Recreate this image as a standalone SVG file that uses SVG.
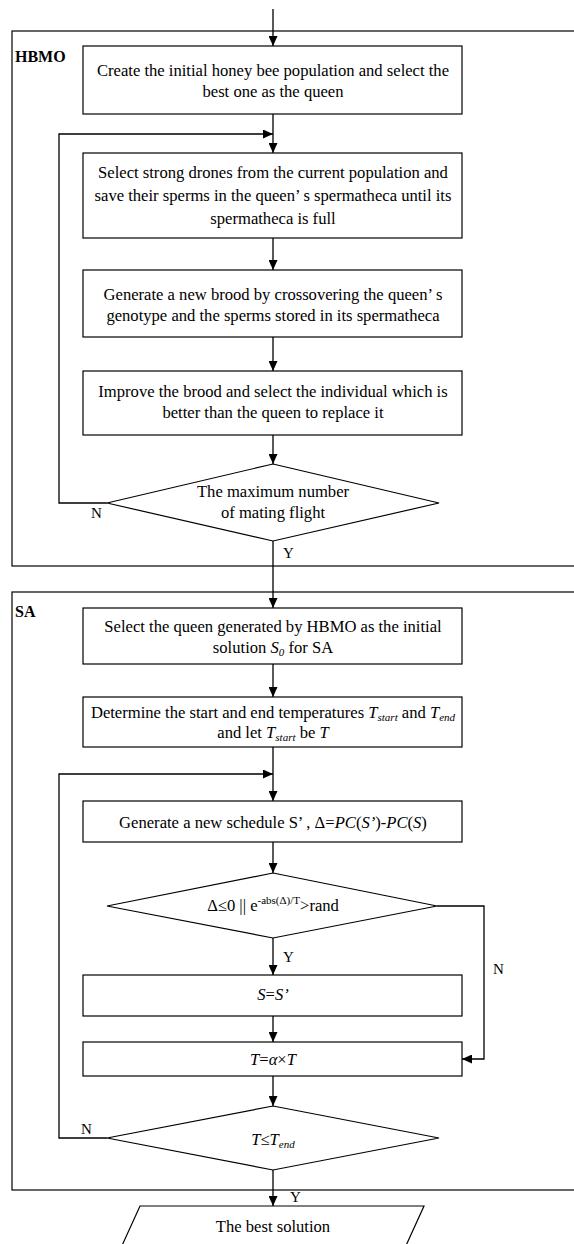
<svg xmlns="http://www.w3.org/2000/svg" width="574" height="1244" viewBox="0 0 574 1244">
<defs>
<marker id="ah" markerUnits="userSpaceOnUse" markerWidth="10" markerHeight="9" refX="10" refY="4.5" orient="auto">
<path d="M0,0 L10,4.5 L0,9 z" fill="#000"/>
</marker>
<style>
.t{font-family:"Liberation Serif","Times New Roman",serif;font-size:16.6px;fill:#000;text-anchor:middle}
.lb{font-family:"Liberation Serif","Times New Roman",serif;font-size:15px;fill:#000}
.bl{font-family:"Liberation Serif","Times New Roman",serif;font-size:16px;font-weight:bold;fill:#000}
.box{fill:#fff;stroke:#000;stroke-width:1.2}
.frame{fill:none;stroke:#000;stroke-width:1.2}
.c{fill:none;stroke:#000;stroke-width:1.3;marker-end:url(#ah)}
.i{font-style:italic}
</style>
</defs>
<rect width="574" height="1244" fill="#fff"/>
<g id="frames">
<rect class="frame" x="12" y="31" width="572" height="535"/>
<rect class="frame" x="12" y="592" width="572" height="598"/>
<text class="bl" x="15" y="62">HBMO</text>
<text class="bl" x="15" y="617">SA</text>
</g>
<g id="connectors">
<path class="c" d="M273,9 V46"/>
<path class="c" d="M273,114 V153"/>
<path class="c" d="M107,503 H59 V134 H273"/>
<path class="c" d="M273,238 V270"/>
<path class="c" d="M273,337 V371"/>
<path class="c" d="M273,435 V464"/>
<path class="c" d="M273,541 V608"/>
<path class="c" d="M273,664 V697"/>
<path class="c" d="M273,747 V801"/>
<path class="c" d="M107,1138 H59 V774 H273"/>
<path class="c" d="M273,842 V873"/>
<path class="c" d="M273,938 V975"/>
<path class="c" d="M437,906 H484 V1059 H462"/>
<path class="c" d="M273,1016 V1042"/>
<path class="c" d="M273,1076 V1106"/>
<path class="c" d="M273,1170 V1206"/>
<text class="lb" x="91" y="518">N</text>
<text class="lb" x="283" y="558">Y</text>
<text class="lb" x="283" y="962">Y</text>
<text class="lb" x="493" y="974">N</text>
<text class="lb" x="81" y="1134">N</text>
<text class="lb" x="290" y="1202">Y</text>
</g>
<g id="n1">
<rect class="box" x="83" y="46" width="379" height="68"/>
<text class="t" x="273" y="76">Create the initial honey bee population and select the</text>
<text class="t" x="273" y="97">best one as the queen</text>
</g>
<g id="n2">
<rect class="box" x="83" y="153" width="379" height="85"/>
<text class="t" x="273" y="178">Select strong drones from the current population and</text>
<text class="t" x="273" y="201">save their sperms in the queen’ s spermatheca until its</text>
<text class="t" x="273" y="224">spermatheca is full</text>
</g>
<g id="n3">
<rect class="box" x="83" y="270" width="379" height="67"/>
<text class="t" x="273" y="300">Generate a new brood by crossovering the queen’ s</text>
<text class="t" x="273" y="321">genotype and the sperms stored in its spermatheca</text>
</g>
<g id="n4">
<rect class="box" x="83" y="371" width="379" height="64"/>
<text class="t" x="273" y="397">Improve the brood and select the individual which is</text>
<text class="t" x="273" y="418">better than the queen to replace it</text>
</g>
<g id="d1">
<polygon class="box" points="273,464 439,503 273,541 107,503"/>
<text class="t" x="273" y="497">The maximum number</text>
<text class="t" x="273" y="518">of mating flight</text>
</g>
<g id="n5">
<rect class="box" x="83" y="608" width="379" height="56"/>
<text class="t" x="273" y="632">Select the queen generated by HBMO as the initial</text>
<text class="t" x="273" y="653">solution <tspan class="i">S</tspan><tspan class="i" font-size="11" dy="3">0</tspan><tspan dy="-3"> for SA</tspan></text>
</g>
<g id="n6">
<rect class="box" x="83" y="697" width="379" height="50"/>
<text class="t" x="273" y="718">Determine the start and end temperatures <tspan class="i">T</tspan><tspan class="i" font-size="11" dy="3">start</tspan><tspan dy="-3"> and </tspan><tspan class="i">T</tspan><tspan class="i" font-size="11" dy="3">end</tspan></text>
<text class="t" x="273" y="738">and let <tspan class="i">T</tspan><tspan class="i" font-size="11" dy="3">start</tspan><tspan dy="-3"> be </tspan><tspan class="i">T</tspan></text>
</g>
<g id="n7">
<rect class="box" x="83" y="801" width="379" height="41"/>
<text class="t" x="273" y="828">Generate a new schedule S’ , Δ=<tspan class="i">PC</tspan>(<tspan class="i">S’</tspan>)-<tspan class="i">PC</tspan>(<tspan class="i">S</tspan>)</text>
</g>
<g id="d2">
<polygon class="box" points="273,873 437,906 273,938 107,906"/>
<text class="t" x="273" y="911">Δ≤0 || e<tspan font-size="11" dy="-7">-abs(Δ)/T</tspan><tspan dy="7">&gt;rand</tspan></text>
</g>
<g id="n8">
<rect class="box" x="83" y="975" width="379" height="41"/>
<text class="t" x="273" y="1000"><tspan class="i">S</tspan>=<tspan class="i">S’</tspan></text>
</g>
<g id="n9">
<rect class="box" x="83" y="1042" width="379" height="34"/>
<text class="t" x="273" y="1065"><tspan class="i">T</tspan>=<tspan class="i">α</tspan>×<tspan class="i">T</tspan></text>
</g>
<g id="d3">
<polygon class="box" points="273,1106 439,1138 273,1170 107,1138"/>
<text class="t" x="273" y="1145"><tspan class="i">T</tspan>≤<tspan class="i">T</tspan><tspan class="i" font-size="11" dy="3">end</tspan></text>
</g>
<g id="out">
<polygon class="box" points="140,1206 424,1206 404,1250 120,1250"/>
<text class="t" x="273" y="1232">The best solution</text>
</g>
</svg>
